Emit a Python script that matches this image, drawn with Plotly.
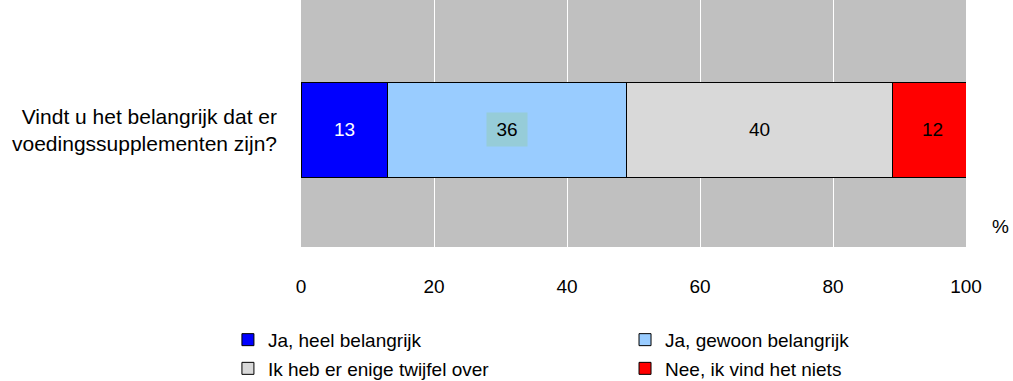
import plotly.graph_objects as go

categories = ["Vindt u het belangrijk dat er<br>voedingssupplementen zijn?"]
series_names = ["Ja, heel belangrijk", "Ja, gewoon belangrijk",
                "Ik heb er enige twijfel over", "Nee, ik vind het niets"]
values = [13, 36, 40, 12]
colors = ["#0000FF", "#99CCFF", "#D9D9D9", "#FF0000"]
label_colors = ["#FFFFFF", "#000000", "#000000", "#000000"]
label_bg = [None, "#96CCD8", None, None]
legend_column = ["legend", "legend2", "legend", "legend2"]
x_ticks = [0, 20, 40, 60, 80, 100]

FONT = "Liberation Sans, Arial, sans-serif"

fig = go.Figure()
for name, v, c, lg in zip(series_names, values, colors, legend_column):
    fig.add_trace(go.Bar(
        x=[v], y=[0], name=name, orientation="h",
        marker=dict(color=c, line=dict(color="#000000", width=1)),
        width=0.385, hoverinfo="x+name", legend=lg, legendgroup=name,
    ))

annotations = []
cum = 0
for v, tc, bg in zip(values, label_colors, label_bg):
    a = dict(x=cum + v / 2, y=0, xref="x", yref="y", text=str(v), showarrow=False,
             font=dict(family=FONT, size=19, color=tc))
    if bg:
        a.update(bgcolor=bg, borderpad=6, width=28, height=21)
    annotations.append(a)
    cum += v

annotations.append(dict(x=0, y=0, xref="paper", yref="y", xanchor="right",
                        xshift=-22, text=categories[0], showarrow=False, align="right",
                        font=dict(family=FONT, size=21, color="#000000")))
annotations.append(dict(x=1, y=0, xref="paper", yref="paper", xanchor="left",
                        yanchor="bottom", xshift=24, yshift=8, text="%", showarrow=False,
                        font=dict(family=FONT, size=19, color="#000000")))

legend_common = dict(orientation="v", xref="container", yref="container",
                     yanchor="top", xanchor="left", font=dict(family=FONT, size=19),
                     traceorder="grouped", tracegroupgap=1, itemwidth=30,
                     bgcolor="rgba(0,0,0,0)")

fig.update_layout(
    width=1013, height=381,
    barmode="stack",
    plot_bgcolor="#C0C0C0", paper_bgcolor="#FFFFFF",
    margin=dict(l=301, r=47, t=0, b=134, autoexpand=False),
    font=dict(family=FONT, size=19, color="#000000"),
    xaxis=dict(range=[0, 100], tickvals=x_ticks, showgrid=True, gridcolor="#FFFFFF",
               gridwidth=1, zeroline=False, showline=False, ticks="",
               ticklabelstandoff=26, tickfont=dict(family=FONT, size=19),
               automargin=False),
    yaxis=dict(range=[-0.474, 0.526], showticklabels=False, showgrid=False,
               zeroline=False, fixedrange=True, automargin=False),
    annotations=annotations,
    showlegend=True,
    legend=dict(x=0.225, y=0.158, **legend_common),
    legend2=dict(x=0.617, y=0.158, **legend_common),
)

fig.write_html("out.html")
